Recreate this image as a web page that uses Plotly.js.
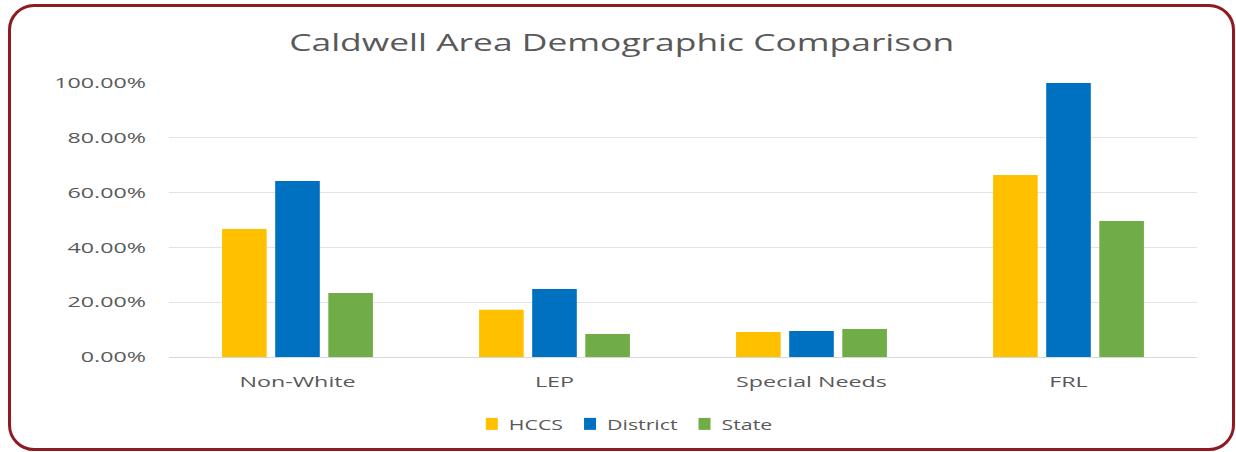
<!DOCTYPE html>
<html>
<head>
<meta charset="utf-8">
<script src="https://cdn.plot.ly/plotly-3.0.1.min.js"></script>
<style>
  html, body { margin: 0; padding: 0; background: #ffffff; }
  #wrap { position: relative; width: 1236px; height: 452px; }
  #chart { width: 1236px; height: 452px; }
  #frame { position: absolute; left: 8px; top: 4px; width: 1221px; height: 441px;
           border: 3px solid #8e1b1f; border-radius: 26px; pointer-events: none; }
</style>
</head>
<body>
<div id="wrap">
  <div id="chart"></div>
  <div id="frame"></div>
</div>
<script>
const categories = ["Non-White", "LEP", "Special Needs", "FRL"];
const hccs = [0.467, 0.172, 0.091, 0.664];
const district = [0.642, 0.248, 0.095, 1.00];
const state = [0.234, 0.084, 0.102, 0.496];
const seriesNames = ["HCCS", "District", "State"];
const seriesColors = ["#FFC000", "#0070C0", "#70AD47"];
const tickVals = [0, 0.2, 0.4, 0.6, 0.8, 1.0];

const allSeries = [hccs, district, state];
const traces = allSeries.map((vals, i) => ({
  type: "bar",
  name: seriesNames[i],
  x: categories,
  y: vals,
  marker: { color: seriesColors[i] },
  hoverinfo: "skip"
}));

const FONT = "Open Sans, sans-serif";

const layout = {
  width: 1236,
  height: 452,
  paper_bgcolor: "#ffffff",
  plot_bgcolor: "#ffffff",
  margin: { l: 169, r: 39, t: 83, b: 95, autoexpand: false },
  barmode: "group",
  bargap: 0.38,
  bargroupgap: 0.16,
  font: { family: FONT, color: "#595959", size: 15 },
  title: {
    text: "Caldwell Area Demographic Comparison",
    font: { family: FONT, size: 24, color: "#595959" },
    x: 0.503, xanchor: "center",
    y: 0.905, yanchor: "middle", yref: "container"
  },
  xaxis: {
    showgrid: false,
    showline: true,
    linecolor: "#d9d9d9",
    linewidth: 1,
    ticks: "",
    automargin: false,
    tickfont: { family: FONT, size: 15, color: "#595959" },
    ticklabelstandoff: 11
  },
  yaxis: {
    range: [0, 1.0],
    tickvals: tickVals,
    tickformat: ".2%",
    showgrid: true,
    gridcolor: "#e3e3e3",
    gridwidth: 1,
    zeroline: false,
    showline: false,
    ticks: "",
    automargin: false,
    tickfont: { family: FONT, size: 15, color: "#595959" },
    ticklabelstandoff: 22
  },
  showlegend: true,
  legend: {
    orientation: "h",
    x: 0.4465, xanchor: "center",
    y: -0.245, yanchor: "middle",
    font: { family: FONT, size: 15, color: "#595959" },
    itemwidth: 30,
    traceorder: "normal"
  }
};

// The reference uses horizontally stretched text; widen glyphs via SVG textLength.
function stretch(el, factor) {
  const w = el.getComputedTextLength();
  el.setAttribute("textLength", (w * factor).toFixed(1));
  el.setAttribute("lengthAdjust", "spacingAndGlyphs");
  return w * factor;
}
function parseT(el) {
  const m = /translate\(\s*([-\d.e]+)[ ,]+([-\d.e]+)\s*\)/.exec(el.getAttribute("transform") || "");
  return m ? [parseFloat(m[1]), parseFloat(m[2])] : [0, 0];
}

Plotly.newPlot("chart", traces, layout, { displayModeBar: false, staticPlot: true }).then(gd => {
  const title = gd.querySelector(".gtitle");
  if (title) stretch(title, 665 / title.getComputedTextLength());
  gd.querySelectorAll(".xtick text, .ytick text").forEach(t => stretch(t, 1.55));

  const legend = gd.querySelector("g.legend");
  if (legend) {
    legend.querySelectorAll("[clip-path]").forEach(n => n.removeAttribute("clip-path"));
    const items = Array.from(legend.querySelectorAll("g.traces"));
    const first = parseT(items[0])[0];
    let x = first;
    let total = 0;
    items.forEach((it) => {
      const ty = parseT(it)[1];
      it.setAttribute("transform", "translate(" + x + "," + ty + ")");
      const txt = it.querySelector(".legendtext");
      if (txt) txt.setAttribute("x", 37);
      const w = txt ? stretch(txt, 1.42) : 0;
      total = x + 37 + w;
      x = x + 37 + w + 7;
    });
    const lt = parseT(legend);
    const center = 622;
    legend.setAttribute("transform", "translate(" + (center - (first + total) / 2) + "," + lt[1] + ")");
  }
});
</script>
</body>
</html>
